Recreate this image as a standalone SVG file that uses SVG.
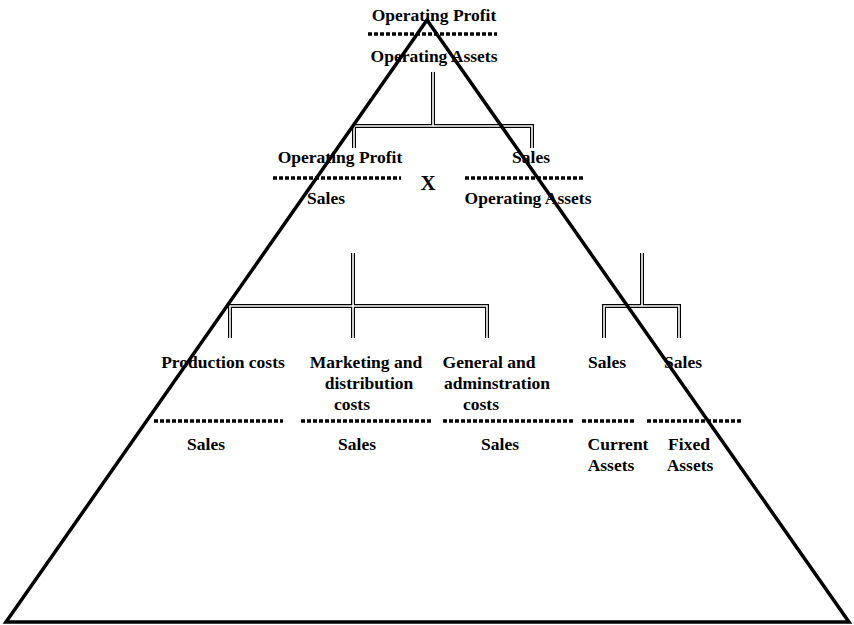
<svg xmlns="http://www.w3.org/2000/svg" width="854" height="625" viewBox="0 0 854 625">
<style>
text{font-family:"Liberation Serif","Times New Roman",serif;font-weight:bold;font-size:17.5px;text-anchor:middle;fill:#000}
.dot{stroke:#000;stroke-width:3.5;stroke-dasharray:4 2;fill:none}
.dbo{stroke:#000;stroke-width:4;fill:none}
.dbi{stroke:#fff;stroke-width:1.6;fill:none}
</style>
<rect width="854" height="625" fill="#fff"/>
<g id="connectors">
<path class="dbo" d="M433,72V126M354,148V126H532V148"/>
<path class="dbo" d="M353,253V338M230,338V306H487V338"/>
<path class="dbo" d="M642,253V306M604,338V306H679V338"/>
<path class="dbi" d="M433,72V126M354,148V126H532V148"/>
<path class="dbi" d="M353,253V338M230,338V306H487V338"/>
<path class="dbi" d="M642,253V306M604,338V306H679V338"/>
</g>
<g id="node-roi">
<text x="434" y="21">Operating Profit</text>
<path class="dot" d="M368,34H497"/>
<text x="434" y="62">Operating Assets</text>
</g>
<g id="node-margin">
<text x="340" y="163">Operating Profit</text>
<path class="dot" d="M273,178H401"/>
<text x="326" y="204">Sales</text>
</g>
<g id="node-times">
<text x="428" y="190" style="font-size:21px">X</text>
</g>
<g id="node-turnover">
<text x="531" y="163">Sales</text>
<path class="dot" d="M465,178H583"/>
<text x="528" y="204">Operating Assets</text>
</g>
<g id="node-production">
<text x="223" y="368">Production costs</text>
<path class="dot" d="M154,421H283"/>
<text x="206" y="450">Sales</text>
</g>
<g id="node-marketing">
<text x="366" y="368">Marketing and</text>
<text x="369" y="389">distribution</text>
<text x="352" y="410">costs</text>
<path class="dot" d="M301,421H431"/>
<text x="357" y="450">Sales</text>
</g>
<g id="node-general">
<text x="489" y="368">General and</text>
<text x="497" y="389">adminstration</text>
<text x="481" y="410">costs</text>
<path class="dot" d="M443,421H573"/>
<text x="500" y="450">Sales</text>
</g>
<g id="node-current">
<text x="607" y="368">Sales</text>
<path class="dot" d="M582,421H635"/>
<text x="618" y="450">Current</text>
<text x="611" y="471">Assets</text>
</g>
<g id="node-fixed">
<text x="683" y="368">Sales</text>
<path class="dot" d="M647,421H743"/>
<text x="689" y="450">Fixed</text>
<text x="690" y="471">Assets</text>
</g>
<g id="pyramid">
<path d="M427,20L6,622H849Z" fill="none" stroke="#000" stroke-width="3.5" stroke-linejoin="miter"/>
</g>
</svg>
